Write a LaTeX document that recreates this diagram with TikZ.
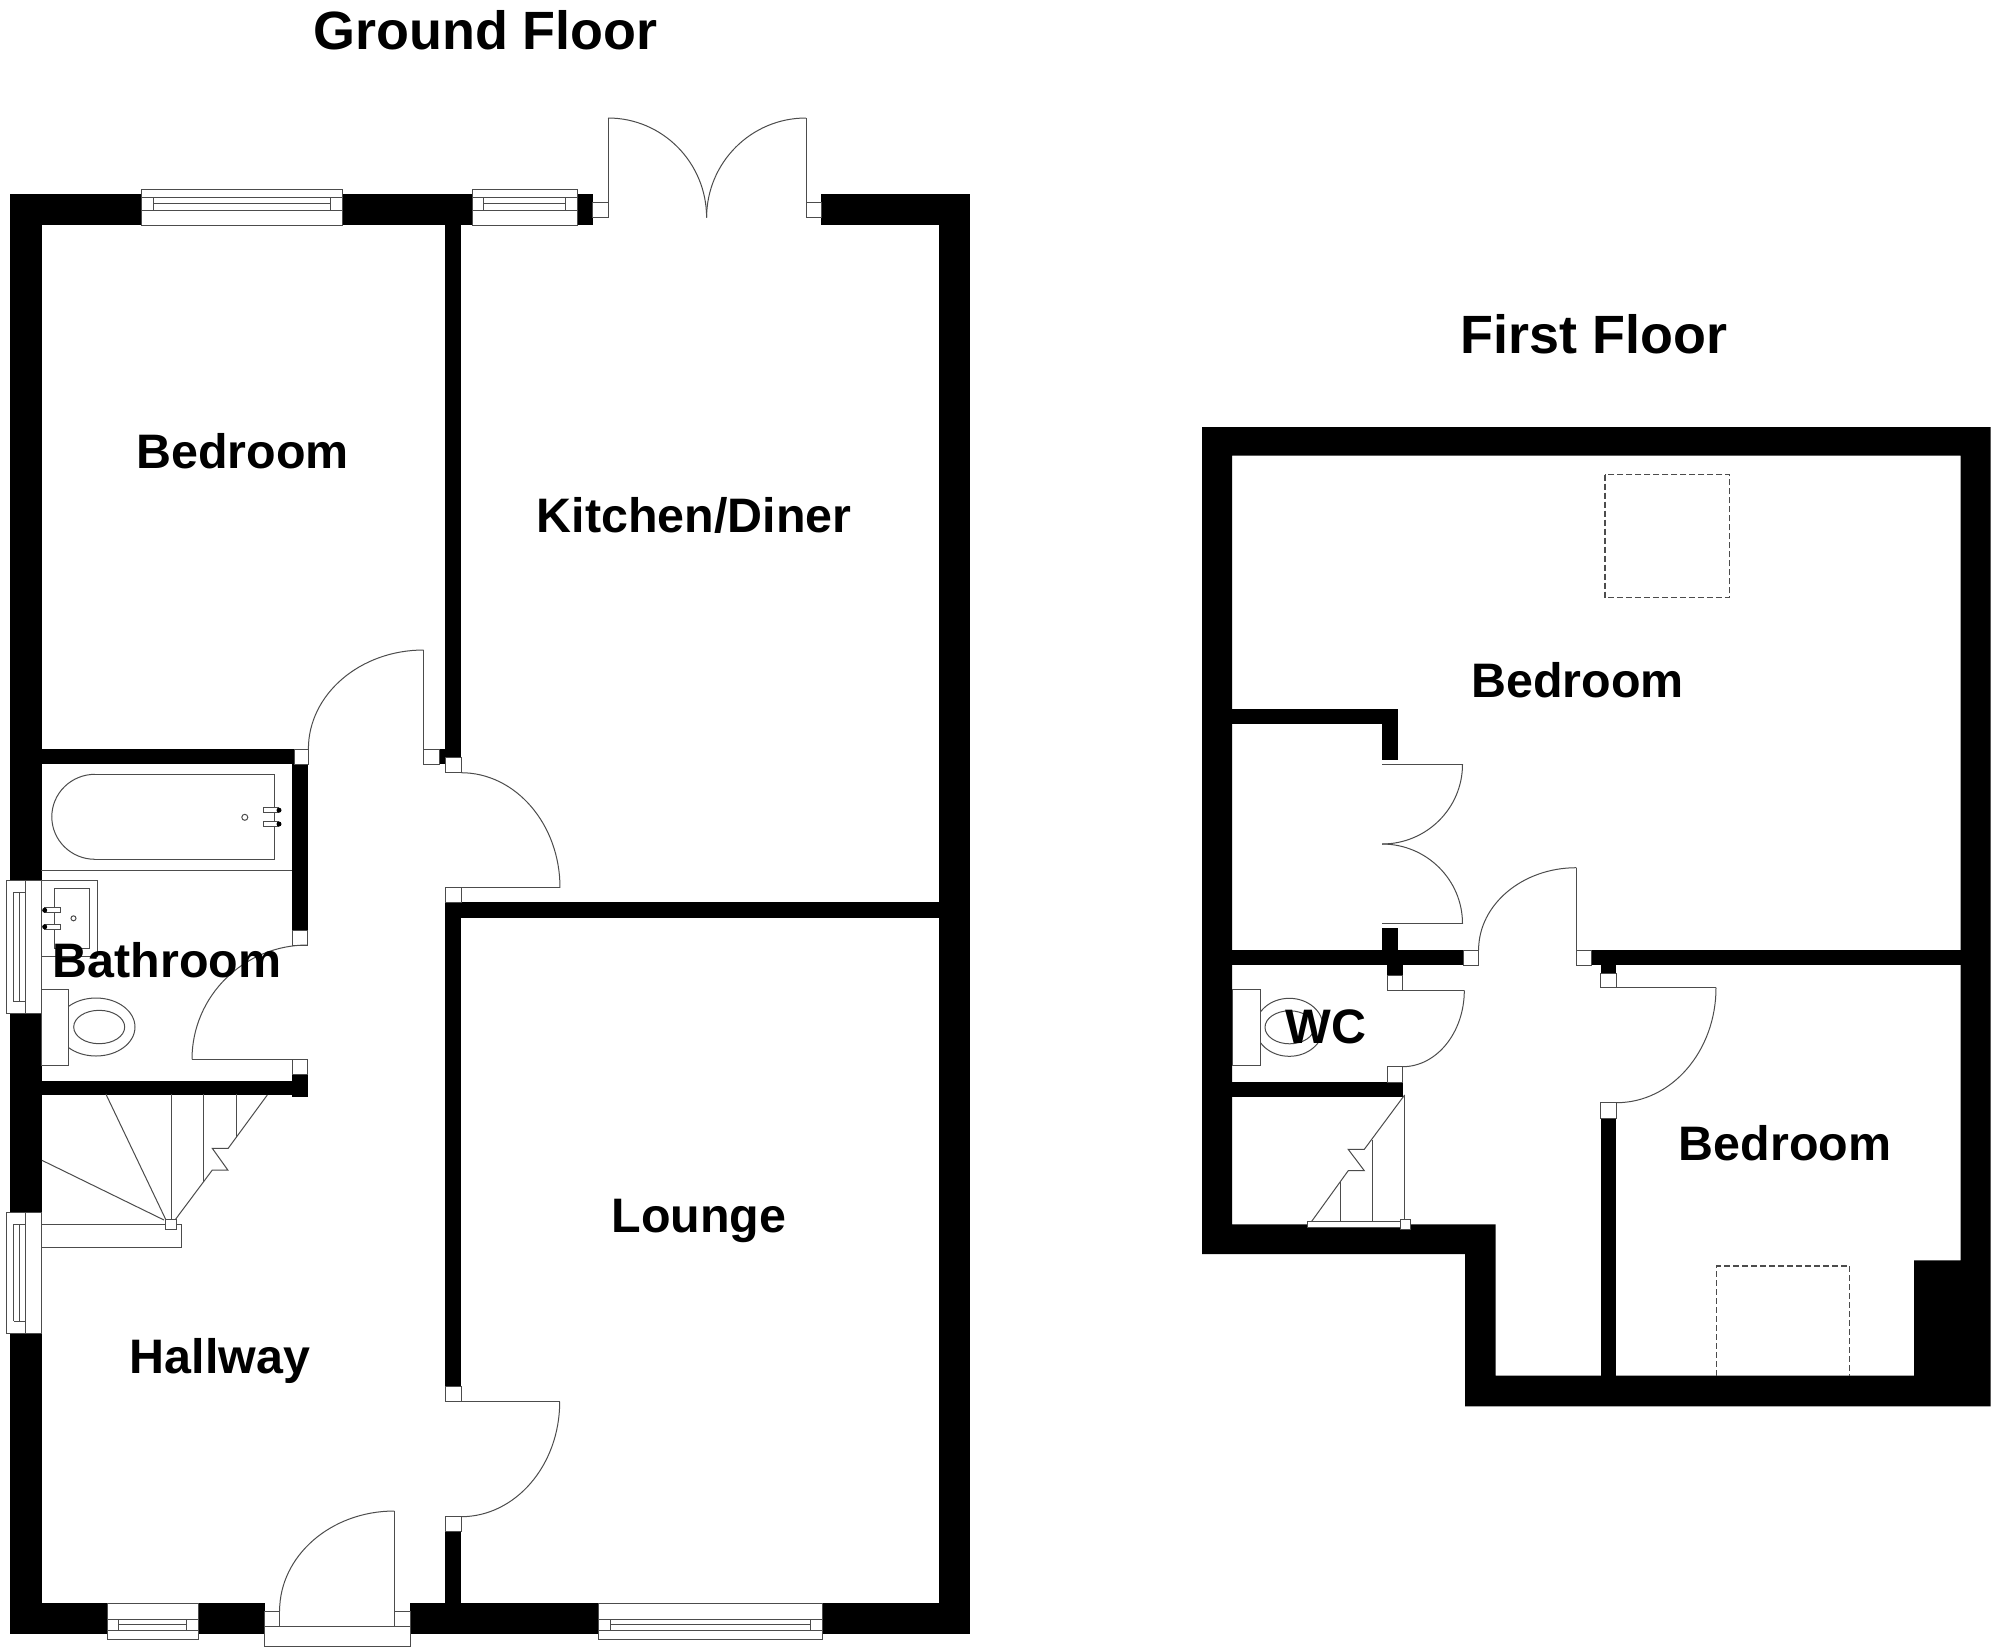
\documentclass[tikz,border=0pt]{standalone}
\usepackage{fontspec}
\setmainfont{Liberation Sans}
\usetikzlibrary{calc}
\definecolor{lin}{gray}{0.3}
\tikzset{
 wall/.style={fill=black,draw=none},
 thin line/.style={draw=lin,line width=1pt},
 box/.style={fill=white,draw=lin,line width=1pt},
 lab/.style={anchor=base,font=\fontsize{48.4}{50}\selectfont\bfseries,text=black,inner sep=0pt},
 ttl/.style={anchor=base,font=\fontsize{53.9}{56}\selectfont\bfseries,text=black,inner sep=0pt},
 sky/.style={draw=lin,line width=1.2pt,dash pattern=on 6pt off 3pt}
}
\newcommand{\wl}[2]{\fill[wall] (#1) rectangle (#2);}
\newcommand{\bx}[2]{\draw[box] (#1) rectangle (#2);}
% quarter curve from A, corner C, to B
\newcommand{\qarc}[3]{\draw[thin line] (#1) .. controls ($(#1)!0.5523!(#2)$) and ($(#3)!0.5523!(#2)$) .. (#3);}
% horizontal window: x1 x2 xi1 xi2 ytop y1 y2 y3 ybot
\newcommand{\hwin}[9]{%
 \draw[box] (#1,#5) rectangle (#2,#9);
 \draw[thin line] (#1,#6) -- (#2,#6) (#1,#8) -- (#2,#8) (#3,#7) -- (#4,#7) (#3,#6) -- (#3,#8) (#4,#6) -- (#4,#8);}
% vertical window: ytop ybot yi1 yi2
\newcommand{\vwin}[4]{%
 \draw[box] (6,#1) rectangle (41,#2);
 \draw[thin line] (25.7,#1) -- (25.7,#2) (13.8,#3) -- (25.7,#3) (13.8,#4) -- (25.7,#4) (13.8,#3) -- (13.8,#4) (19.8,#3) -- (19.8,#4);}
\begin{document}
\begin{tikzpicture}[x=1pt,y=-1pt]
\useasboundingbox (0,0) rectangle (1994,1649);
\fill[white] (0,0) rectangle (1994,1649);
% ---------- Ground floor walls
\wl{10.2,194.3}{592.5,225}
\wl{821,194.3}{970,225}
\wl{10.2,194.3}{41.5,1634.3}
\wl{939,194.3}{970,1634.3}
\wl{10.2,1603.3}{264.6,1634.3}
\wl{410,1603.3}{970,1634.3}
\wl{445,225}{461,757.3}
\wl{439,749}{445,764.3}
\wl{41,749}{294,764.3}
\wl{292,764.3}{307.6,930}
\wl{41,1081.3}{307.6,1095}
\wl{292,1074.7}{307.6,1096.7}
\wl{445,902.3}{939,918}
\wl{445,902.3}{461,1386.7}
\wl{445,1531.7}{461,1603.3}
% ---------- Ground floor windows
\hwin{141.6}{342}{153.7}{330}{189.3}{197.7}{203.7}{210}{225}
\hwin{472}{577}{483}{565}{189.3}{197.7}{203.7}{210}{225}
\hwin{107.3}{198}{118.8}{186.6}{1603.3}{1619}{1624.7}{1630.7}{1639.3}
\hwin{598.7}{822.6}{610.8}{810}{1603.3}{1619}{1624.7}{1630.7}{1639.3}
% ---------- French doors
\bx{592.5,202.3}{608,217.7}
\bx{806,202.3}{821,217.7}
\draw[thin line] (608,202.3) -- (608,118);
\draw[thin line] (806,202.3) -- (806,118);
\qarc{608,118}{706.6,118}{706.6,217.7}
\qarc{806,118}{706.6,118}{706.6,217.7}
% ---------- Bedroom door
\bx{294,749}{308.4,764.3}
\bx{423.7,749}{439,764.3}
\draw[thin line] (423.7,749) -- (423.7,650);
\qarc{423.7,650}{308.4,650}{308.4,749}
% ---------- Kitchen door
\bx{445,757.3}{461,772.7}
\bx{445,887.7}{461,902.3}
\draw[thin line] (461,887.7) -- (560,887.7);
\qarc{461,772.7}{560,772.7}{560,887.7}
% ---------- Bathroom door
\bx{292,930}{307.6,945}
\bx{292,1059.3}{307.6,1074.7}
\draw[thin line] (292,1059.3) -- (192,1059.3);
\qarc{307.6,945}{192,945}{192,1059.3}
% ---------- Lounge door
\bx{445,1386.7}{461,1401.7}
\bx{445,1516.7}{461,1531.7}
\draw[thin line] (461,1401.7) -- (559.7,1401.7);
\qarc{559.7,1401.7}{559.7,1516.7}{461,1516.7}
% ---------- Front door
\draw[box] (264.6,1626.7) rectangle (410,1646.7);
\bx{264.6,1611}{279.6,1626.7}
\bx{394.4,1611}{410,1626.7}
\draw[thin line] (394.4,1611) -- (394.4,1511);
\qarc{394.4,1511}{279.6,1511}{279.6,1611}
% ---------- Bath
\draw[thin line] (95,774.3) -- (274.4,774.3) -- (274.4,859.3) -- (95,859.3);
\qarc{95,774.3}{51.8,774.3}{51.8,816.8}
\qarc{95,859.3}{51.8,859.3}{51.8,816.8}
\draw[thin line] (244.8,817.3) ellipse [x radius=3,y radius=3];
\draw[box] (263.3,807.7) rectangle (278,812.7);
\draw[box] (263.3,821.3) rectangle (278,826.7);
\fill[black] (279,810.2) circle (2.5) (279,824) circle (2.5);
\draw[thin line] (41,870) -- (292,870);
% ---------- Basin
\draw[thin line] (41,880.3) -- (97.3,880.3) -- (97.3,956.3) -- (41,956.3);
\draw[thin line] (54.6,888.3) rectangle (89.8,948.7);
\draw[box] (44.7,907.7) rectangle (60.5,912.7);
\draw[box] (44.7,924.3) rectangle (60.5,929.3);
\fill[black] (44.7,910.2) circle (2.5) (44.7,926.8) circle (2.5);
\draw[thin line] (73.5,918.3) circle (2.5);
% ---------- Toilet
\draw[thin line] (96,1027) ellipse [x radius=39,y radius=29];
\draw[thin line] (99.2,1027) ellipse [x radius=25.5,y radius=16.7];
\draw[box] (41,989.3) rectangle (68.8,1065);
% ---------- Bathroom and stair windows
\vwin{880.3}{1013.7}{892}{1001.7}
\vwin{1212.3}{1333.3}{1224.3}{1321.3}
% ---------- Ground floor stairs
\draw[thin line] (41.9,1160.3) -- (164,1220);
\draw[thin line] (106,1094.3) -- (166,1220);
\draw[thin line] (171.2,1094.3) -- (171.2,1219.3);
\draw[thin line] (203.6,1094.3) -- (203.6,1181.7);
\draw[thin line] (236.5,1094.3) -- (236.5,1136.7);
\draw[thin line] (175,1220) -- (203.6,1181.7) -- (212.3,1170) -- (227.8,1170) -- (212.3,1148.3) -- (228.2,1148.3) -- (267.3,1095);
\draw[thin line] (41,1224.3) -- (181,1224.3) -- (181,1247) -- (41,1247);
\draw[box] (165.7,1219.3) rectangle (176.4,1229.7);
% ---------- First floor outer walls
\fill[black,even odd rule]
 (1202,427) -- (1990.7,427) -- (1990.7,1406.3) -- (1465,1406.3) -- (1465,1254) -- (1202,1254) -- cycle
 (1232,455.7) -- (1960.7,455.7) -- (1960.7,1260.3) -- (1914,1260.3) -- (1914,1375.7) -- (1495.5,1375.7) -- (1495.5,1224.3) -- (1232,1224.3) -- cycle;
% ---------- First floor inner walls
\wl{1232,709.3}{1397.5,724.3}
\wl{1382,709.3}{1397.5,760}
\wl{1382,927.7}{1397.5,950}
\wl{1232,950}{1463.6,965.3}
\wl{1591.4,950}{1960.7,965.3}
\wl{1387,965.3}{1402.5,975}
\wl{1600.7,965.3}{1615.7,973.3}
\wl{1232,1082.3}{1402.5,1096.7}
\wl{1600.7,1118.3}{1615.7,1375.7}
% ---------- Cupboard doors
\draw[thin line] (1382,764.3) -- (1462.5,764.3);
\draw[thin line] (1382,923.7) -- (1462.5,923.7);
\qarc{1462.5,764.3}{1462.5,844}{1382,844}
\qarc{1462.5,923.7}{1462.5,844}{1382,844}
% ---------- Landing door to main bedroom
\bx{1463.6,950}{1478.6,965.3}
\bx{1576.4,950}{1591.4,965.3}
\draw[thin line] (1576.4,950) -- (1576.4,867.7);
\qarc{1576.4,867.7}{1478.6,867.7}{1478.6,950}
% ---------- WC door
\bx{1387,975}{1402.5,990.3}
\bx{1387,1066.7}{1402.5,1082.3}
\draw[thin line] (1402.5,990.3) -- (1464.3,990.3);
\qarc{1464.3,990.3}{1464.3,1066.7}{1402.5,1066.7}
% ---------- Second bedroom door
\bx{1600.7,973.3}{1616.4,987.7}
\bx{1600.7,1102.7}{1616.4,1118.3}
\draw[thin line] (1616.4,987.7) -- (1716,987.7);
\qarc{1716,987.7}{1716,1102.7}{1616.4,1102.7}
% ---------- WC pan
\draw[thin line] (1289.3,1027.3) ellipse [x radius=34,y radius=29];
\draw[thin line] (1289.6,1027.3) ellipse [x radius=24.6,y radius=16.5];
\draw[box] (1232,989.3) rectangle (1260,1065.3);
% ---------- First floor stairs
\draw[box] (1307.5,1221.7) rectangle (1400,1227.7);
\draw[thin line] (1404.6,1095) -- (1404.6,1219.3);
\draw[thin line] (1311.4,1221.7) -- (1348.2,1170.7) -- (1364.3,1170.7) -- (1348.2,1149.3) -- (1364.3,1149.3) -- (1404.6,1095);
\draw[thin line] (1340.4,1181.7) -- (1340.4,1221.7);
\draw[thin line] (1372.9,1140) -- (1372.9,1221.7);
\draw[box] (1400,1219.3) rectangle (1410.4,1229.3);
% ---------- Skylights
\draw[sky] (1605,474.5) rectangle (1729.5,597.7);
\draw[sky] (1716.7,1375.7) -- (1716.7,1266) -- (1849.7,1266) -- (1849.7,1375.7);
% ---------- Labels
\node[ttl] (gf) at (485.5,49) {Ground Floor};
\node[ttl] (ff) at (1594,353.5) {First Floor};
\node[lab] (bed1) at (242.5,468) {Bedroom};
\node[lab] (kit) at (694,532.5) {Kitchen/Diner};
\node[lab] (bath) at (167,977) {Bathroom};
\node[lab] (lounge) at (699,1232.5) {Lounge};
\node[lab] (hall) at (220,1373.5) {Hallway};
\node[lab] (bed2) at (1577.5,697.5) {Bedroom};
\node[lab] (wc) at (1326,1043.5) {WC};
\node[lab] (bed3) at (1785,1160.5) {Bedroom};
\end{tikzpicture}
\end{document}
